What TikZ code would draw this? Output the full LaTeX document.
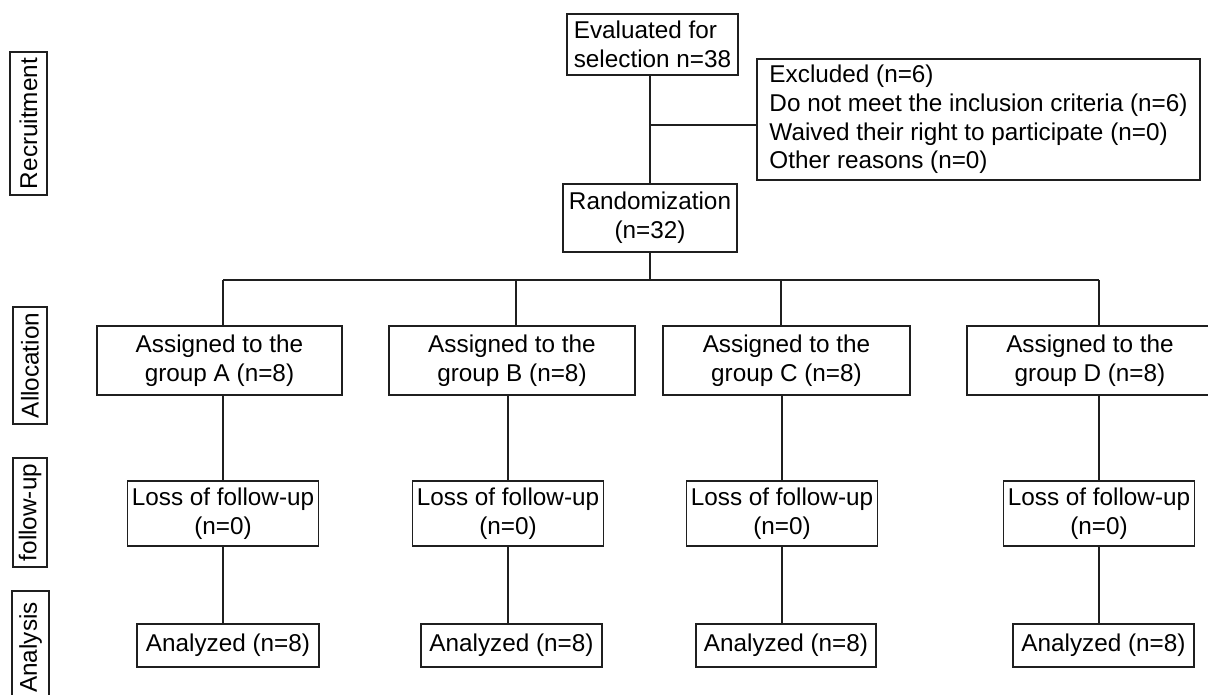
\documentclass[tikz,border=0pt]{standalone}
\usepackage{fontspec}
\setmainfont{Liberation Sans}
\begin{document}
\begin{tikzpicture}[x=1pt,y=-1pt,
  box/.style={draw=black!88, line width=1.9pt, inner sep=0pt, align=center,
    font=\fontsize{24.3}{28.8}\selectfont},
  leftbox/.style={box, align=left},
  lbl/.style={box, rotate=90},
  conn/.style={draw=black!88, line width=1.9pt}]
\useasboundingbox (0,0) rectangle (1208,694);
\clip (0,0) rectangle (1208,694);

% side labels
\node[lbl, minimum width=143pt, minimum height=37pt] (recr) at (28.5,123.5) {Recruitment};
\node[lbl, minimum width=117pt, minimum height=34pt] (alloc) at (30,365.5) {Allocation};
\node[lbl, minimum width=109pt, minimum height=34pt] (fup) at (30,512.5) {follow-up};
\node[lbl, minimum width=113pt, minimum height=37pt] (anal) at (30.5,647.5) {Analysis};

% top part
\node[leftbox, minimum width=171pt, minimum height=61pt] (eval) at (652.5,44.5) {Evaluated for\\selection n=38};
\node[leftbox, minimum width=443pt, minimum height=121pt] (excl) at (978.5,119.5)
  {Excluded (n=6)\\Do not meet the inclusion criteria (n=6)\\Waived their right to participate (n=0)\\Other reasons (n=0)};
\node[box, minimum width=174pt, minimum height=68pt] (rand) at (650,218) {Randomization\\(n=32)};

\coordinate (jx) at (650,125);
\draw[conn] (rand.north |- eval.south) -- (rand.north);
\draw[conn] (jx) -- (jx -| excl.west);

% allocation
\node[box, minimum width=245pt, minimum height=69pt] (aA) at (219.5,360.5) {Assigned to the\\group A (n=8)};
\node[box, minimum width=246pt, minimum height=69pt] (aB) at (512,360.5) {Assigned to the\\group B (n=8)};
\node[box, minimum width=247pt, minimum height=69pt] (aC) at (786.5,360.5) {Assigned to the\\group C (n=8)};
\node[box, minimum width=246pt, minimum height=69pt] (aD) at (1090,360.5) {Assigned to the\\group D (n=8)};

\coordinate (bA) at (223,280);
\coordinate (bB) at (516,280);
\coordinate (bC) at (781,280);
\coordinate (bD) at (1099,280);
\draw[conn] (rand.south) -- (rand.south |- bA);
\draw[conn] (bA) -- (bD);
\foreach \g in {A,B,C,D} {
  \draw[conn] (b\g) -- (b\g |- a\g.north);
}

% follow-up
\node[box, minimum width=191pt, minimum height=65pt] (lA) at (223,513.5) {Loss of follow-up\\(n=0)};
\node[box, minimum width=191pt, minimum height=65pt] (lB) at (508,513.5) {Loss of follow-up\\(n=0)};
\node[box, minimum width=191pt, minimum height=65pt] (lC) at (782,513.5) {Loss of follow-up\\(n=0)};
\node[box, minimum width=191pt, minimum height=65pt] (lD) at (1099,513.5) {Loss of follow-up\\(n=0)};

% analysis
\node[box, minimum width=182pt, minimum height=43pt] (nA) at (228,645.5) {Analyzed (n=8)};
\node[box, minimum width=181pt, minimum height=43pt] (nB) at (511.5,645.5) {Analyzed (n=8)};
\node[box, minimum width=180pt, minimum height=43pt] (nC) at (786,645.5) {Analyzed (n=8)};
\node[box, minimum width=181pt, minimum height=43pt] (nD) at (1103.5,645.5) {Analyzed (n=8)};

\foreach \g in {A,B,C,D} {
  \draw[conn] (l\g.north |- a\g.south) -- (l\g.north);
  \draw[conn] (l\g.south) -- (l\g.south |- n\g.north);
}
\end{tikzpicture}
\end{document}
